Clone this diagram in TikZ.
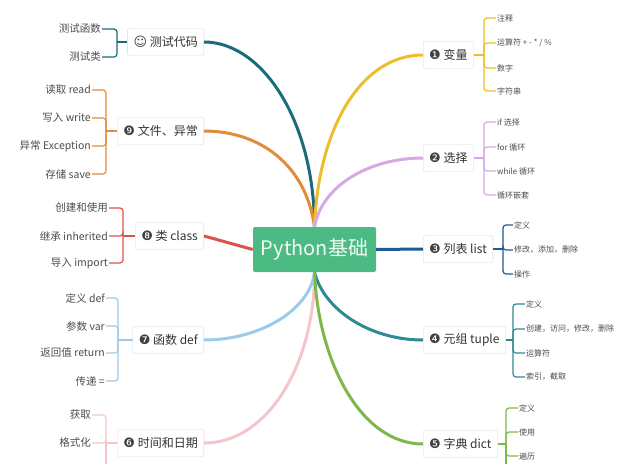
\documentclass[tikz,border=0pt]{standalone}
\usepackage{fontspec}
\setmainfont{Noto Sans CJK SC}
\newfontfamily\symfont{DejaVu Sans}
\usepackage{xcolor}
\usepackage{tikz}
\usetikzlibrary{positioning,calc}

\definecolor{rootgreen}{HTML}{4CBB83}
\definecolor{ctest}{HTML}{1B6B7B}
\definecolor{cfile}{HTML}{E08C3A}
\definecolor{ccls}{HTML}{D9544A}
\definecolor{cfunc}{HTML}{9CCAEA}
\definecolor{ctime}{HTML}{F4C6CB}
\definecolor{cvar}{HTML}{ECBE2E}
\definecolor{csel}{HTML}{D6A8E4}
\definecolor{clist}{HTML}{1D5A97}
\definecolor{ctup}{HTML}{2E8A94}
\definecolor{cdict}{HTML}{7CB94A}

\tikzset{
    branch/.style={line width=3pt},
    brack/.style={line width=1.2pt, rounded corners=3pt},
    topic/.style={draw=gray!30, fill=white, rounded corners=2pt, minimum height=27pt,
        inner xsep=6pt, text=black!80, font=\fontsize{12}{13}\selectfont},
    leaf/.style={inner sep=1pt, text=black!70, font=\fontsize{10.5}{11}\selectfont},
    smallleaf/.style={leaf, font=\fontsize{8}{9}\selectfont}
}
\newcommand{\badge}[1]{{\symfont\fontsize{13}{13}\selectfont\color{black!75}#1}}

\begin{document}
\begin{tikzpicture}[x=1pt,y=-1pt]
    \useasboundingbox (0,0) rectangle (629,464);

    \node[fill=rootgreen, rounded corners=2pt, minimum width=123pt, minimum height=45pt,
        text=white!92!rootgreen, font=\fontsize{20}{21}\selectfont] (root) at (314.5,249.5) {Python基础};

    % topics on the left
    \node[topic, anchor=east] (test) at (204,42) {\badge{☺} 测试代码};
    \node[topic, anchor=east] (file) at (204,131) {\badge{❾} 文件、异常};
    \node[topic, anchor=east] (cls) at (204,236) {\badge{❽} 类 class};
    \node[topic, anchor=east] (func) at (204,340) {\badge{❼} 函数 def};
    \node[topic, anchor=east] (time) at (204,443) {\badge{❻} 时间和日期};

    % topics on the right
    \node[topic, anchor=west] (var) at (423,55) {\badge{❶} 变量};
    \node[topic, anchor=west] (sel) at (423,158) {\badge{❷} 选择};
    \node[topic, anchor=west] (list) at (423,249) {\badge{❸} 列表 list};
    \node[topic, anchor=west] (tup) at (423,340) {\badge{❹} 元组 tuple};
    \node[topic, anchor=west] (dict) at (423,444) {\badge{❺} 字典 dict};

    % branches
    \draw[branch, ctest] (root.north) .. controls (314,120) and (262,42) .. (test.east);
    \draw[branch, cfile] (root.north) .. controls (306,165) and (260,131) .. (file.east);
    \draw[branch, ccls] (root.west) -- (cls.east);
    \draw[branch, cfunc] (root.south) .. controls (310,310) and (260,340) .. (func.east);
    \draw[branch, ctime] (root.south) .. controls (315,360) and (270,443) .. (time.east);
    \draw[branch, cvar] (root.north) .. controls (318,130) and (360,55) .. (var.west);
    \draw[branch, csel] (root.north) .. controls (322,185) and (370,158) .. (sel.west);
    \draw[branch, clist] (root.east) -- (list.west);
    \draw[branch, ctup] (root.south) .. controls (324,310) and (370,340) .. (tup.west);
    \draw[branch, cdict] (root.south) .. controls (318,360) and (360,444) .. (dict.west);

    % leaves on the left
    \foreach \t/\y [count=\i] in {测试函数/29, 测试类/57}
        \node[leaf, anchor=east] (test\i) at (102,\y) {\t};
    \coordinate (testB) at (117,42);
    \draw[brack, ctest] (test.west) -- (testB);
    \foreach \i in {1,2} \draw[brack, ctest] (testB) |- (test\i.east);

    \foreach \t/\y [count=\i] in {读取 read/90, 写入 write/118, 异常 Exception/146, 存储 save/174}
        \node[leaf, anchor=east] (file\i) at (92,\y) {\t};
    \coordinate (fileB) at (106,131);
    \draw[brack, cfile] (file.west) -- (fileB);
    \foreach \i in {1,...,4} \draw[brack, cfile] (fileB) |- (file\i.east);

    \foreach \t/\y [count=\i] in {创建和使用/208, 继承 inherited/236, 导入 import/263}
        \node[leaf, anchor=east] (cls\i) at (109,\y) {\t};
    \coordinate (clsB) at (123,236);
    \draw[brack, ccls] (cls.west) -- (clsB);
    \foreach \i in {1,2,3} \draw[brack, ccls] (clsB) |- (cls\i.east);

    \foreach \t/\y [count=\i] in {定义 def/298, 参数 var/326, 返回值 return/353, 传递 =/381}
        \node[leaf, anchor=east] (func\i) at (106,\y) {\t};
    \coordinate (funcB) at (118,340);
    \draw[brack, cfunc] (func.west) -- (funcB);
    \foreach \i in {1,...,4} \draw[brack, cfunc] (funcB) |- (func\i.east);

    \foreach \t/\y [count=\i] in {获取/415, 格式化/443}
        \node[leaf, anchor=east] (time\i) at (92,\y) {\t};
    \coordinate (timeB) at (106,443);
    \coordinate (timeEnd) at (106,464);
    \draw[brack, ctime] (time.west) -- (timeB);
    \foreach \i in {1,2} \draw[brack, ctime] (timeB) |- (time\i.east);
    \draw[brack, ctime] (timeB) -- (timeEnd);

    % leaves on the right
    \foreach \t/\y [count=\i] in {注释/18, {运算符 + - * / \%}/43, 数字/68, 字符串/91}
        \node[smallleaf, anchor=west] (var\i) at (496,\y) {\t};
    \coordinate (varB) at (484,55);
    \draw[brack, cvar] (var.east) -- (varB);
    \foreach \i in {1,...,4} \draw[brack, cvar] (varB) |- (var\i.west);

    \foreach \t/\y [count=\i] in {if 选择/122, for 循环/147, while 循环/171, 循环嵌套/195}
        \node[smallleaf, anchor=west] (sel\i) at (496,\y) {\t};
    \coordinate (selB) at (484,158);
    \draw[brack, csel] (sel.east) -- (selB);
    \foreach \i in {1,...,4} \draw[brack, csel] (selB) |- (sel\i.west);

    \foreach \t/\y [count=\i] in {定义/225, 修改，添加，删除/250, 操作/274}
        \node[smallleaf, anchor=west] (list\i) at (513,\y) {\t};
    \coordinate (listB) at (503,249);
    \draw[brack, clist] (list.east) -- (listB);
    \foreach \i in {1,2,3} \draw[brack, clist] (listB) |- (list\i.west);

    \foreach \t/\y [count=\i] in {定义/304, 创建，访问，修改，删除/329, 运算符/353, 索引，截取/377}
        \node[smallleaf, anchor=west] (tup\i) at (525,\y) {\t};
    \coordinate (tupB) at (513,340);
    \draw[brack, ctup] (tup.east) -- (tupB);
    \foreach \i in {1,...,4} \draw[brack, ctup] (tupB) |- (tup\i.west);

    \foreach \t/\y [count=\i] in {定义/408, 使用/432, 遍历/456}
        \node[smallleaf, anchor=west] (dict\i) at (518,\y) {\t};
    \coordinate (dictB) at (506,444);
    \coordinate (dictEnd) at (506,464);
    \draw[brack, cdict] (dict.east) -- (dictB);
    \foreach \i in {1,2,3} \draw[brack, cdict] (dictB) |- (dict\i.west);
    \draw[brack, cdict] (dictB) -- (dictEnd);
\end{tikzpicture}
\end{document}
